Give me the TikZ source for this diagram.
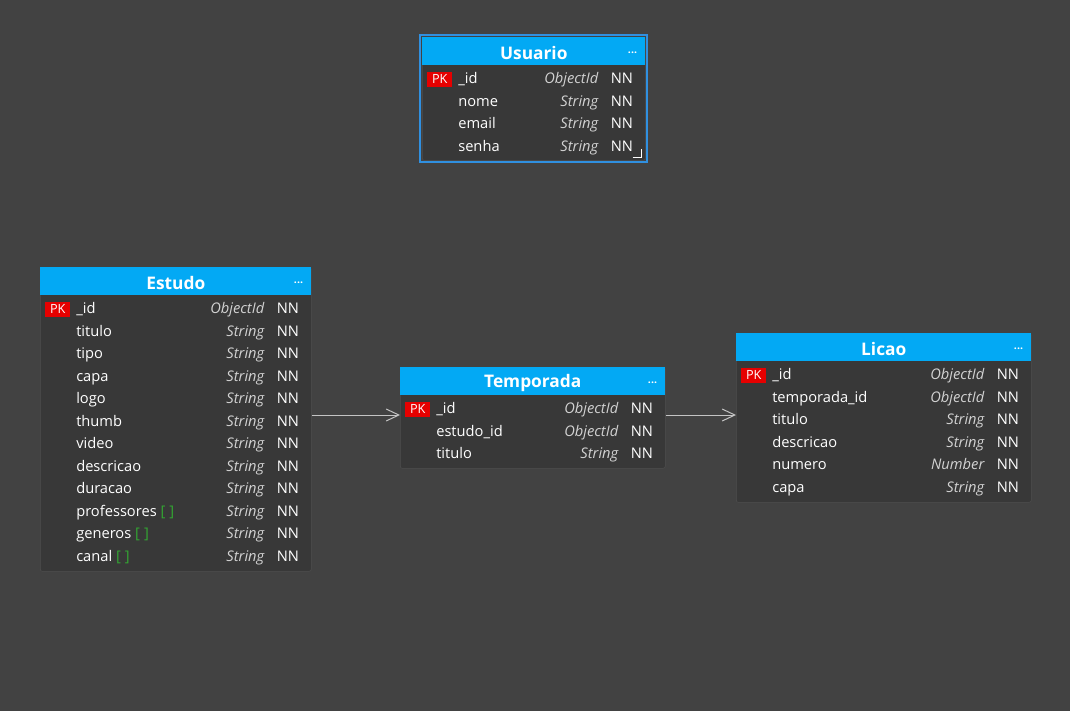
\documentclass[tikz,border=0pt]{standalone}
\usepackage{fontspec}
\setmainfont{Open Sans}
\usetikzlibrary{arrows.meta}
\usetikzlibrary{calc}

\definecolor{canvas}{HTML}{424242}
\definecolor{tblbody}{HTML}{383838}
\definecolor{tblline}{HTML}{4E4E4E}
\definecolor{tblhead}{HTML}{03A9F4}
\definecolor{pkred}{HTML}{E60000}
\definecolor{arrgreen}{HTML}{33A532}
\definecolor{typegray}{HTML}{D2D2D2}
\definecolor{selblue}{HTML}{3090E0}
\definecolor{fkline}{HTML}{C4C4C4}

\tikzset{
	tbl/.style={draw=tblline,fill=tblbody,anchor=north west,rounded corners=1.5pt,inner sep=0pt},
	head/.style={fill=tblhead,anchor=north west,inner sep=0pt,minimum height=28*0.75pt},
	title/.style={text=white,font=\fontsize{13}{15}\selectfont\bfseries},
	dots/.style={text=white,font=\fontsize{8}{8}\selectfont\bfseries},
	pk/.style={fill=pkred,text=white,font=\fontsize{9.5}{10}\selectfont,minimum width=25*0.75pt,minimum height=15*0.75pt,inner sep=0pt,anchor=west},
	col/.style={text=white,font=\fontsize{11}{13}\selectfont,anchor=west,inner sep=0pt,text height=8pt,text depth=2.5pt},
	type/.style={col,text=typegray,font=\fontsize{11}{13}\selectfont\itshape,anchor=east},
	nn/.style={col},
	fk/.style={draw=fkline,line width=0.75pt,-{Straight Barb[length=9.5pt,width=9pt]}},
	sel/.style={draw=selblue,line width=1.5pt}
}

\begin{document}
\begin{tikzpicture}[x=0.75pt,y=-0.75pt]
	\fill[canvas] (0,0) rectangle (1070,711);
	\useasboundingbox (0,0) rectangle (1070,711);
	% Usuario
	\draw (422,37) node (usuario) [tbl,minimum width=223*0.75pt,minimum height=123*0.75pt] {};
	\draw (usuario.north west) node (usuario-h) [head,minimum width=223*0.75pt] {};
	\draw (usuario-h) ++(0,2) node [title] {Usuario};
	\draw (usuario-h.east) ++(-13,3) node [dots] {···};
	\foreach \n/\t [count=\i from 0] in {\_id/ObjectId,nome/String,email/String,senha/String} {
		\draw (usuario.north west) ++(36,43+22.5*\i) node [col] {\n};
		\draw (usuario.north east) ++(-47,43+22.5*\i) node [type] {\t};
		\draw (usuario.north east) ++(-35,43+22.5*\i) node [nn] {NN};
	};
	\draw (usuario.north west) ++(5,42) node [pk] {PK};
	\draw[white,line width=0.9pt] (usuario.south east) ++(-13,-3) -- ++(9,0) -- ++(0,-9);
	\draw[sel] (usuario.north west) ++(-2,-2) rectangle ++(227,127);
	% Estudo
	\draw (40,267) node (estudo) [tbl,minimum width=271*0.75pt,minimum height=304*0.75pt] {};
	\draw (estudo.north west) node (estudo-h) [head,minimum width=271*0.75pt] {};
	\draw (estudo-h) ++(0,2) node [title] {Estudo};
	\draw (estudo-h.east) ++(-13,3) node [dots] {···};
	\foreach \n/\t [count=\i from 0] in {\_id/ObjectId,titulo/String,tipo/String,capa/String,logo/String,thumb/String,video/String,descricao/String,duracao/String,{professores {\color{arrgreen}[\;]}}/String,{generos {\color{arrgreen}[\;]}}/String,{canal {\color{arrgreen}[\;]}}/String} {
		\draw (estudo.north west) ++(36,43+22.5*\i) node [col] {\n};
		\draw (estudo.north east) ++(-47,43+22.5*\i) node [type] {\t};
		\draw (estudo.north east) ++(-35,43+22.5*\i) node [nn] {NN};
	};
	\draw (estudo.north west) ++(5,42) node [pk] {PK};
	% Temporada
	\draw (400,367) node (temporada) [tbl,minimum width=265*0.75pt,minimum height=101*0.75pt] {};
	\draw (temporada.north west) node (temporada-h) [head,minimum width=265*0.75pt] {};
	\draw (temporada-h) ++(0,2) node [title] {Temporada};
	\draw (temporada-h.east) ++(-13,3) node [dots] {···};
	\foreach \n/\t [count=\i from 0] in {\_id/ObjectId,estudo\_id/ObjectId,titulo/String} {
		\draw (temporada.north west) ++(36,43+22.5*\i) node [col] {\n};
		\draw (temporada.north east) ++(-47,43+22.5*\i) node [type] {\t};
		\draw (temporada.north east) ++(-35,43+22.5*\i) node [nn] {NN};
	};
	\draw (temporada.north west) ++(5,42) node [pk] {PK};
	% Licao
	\draw (736,333) node (licao) [tbl,minimum width=295*0.75pt,minimum height=169*0.75pt] {};
	\draw (licao.north west) node (licao-h) [head,minimum width=295*0.75pt] {};
	\draw (licao-h) ++(0,2) node [title] {Licao};
	\draw (licao-h.east) ++(-13,3) node [dots] {···};
	\foreach \n/\t [count=\i from 0] in {\_id/ObjectId,temporada\_id/ObjectId,titulo/String,descricao/String,numero/Number,capa/String} {
		\draw (licao.north west) ++(36,43+22.5*\i) node [col] {\n};
		\draw (licao.north east) ++(-47,43+22.5*\i) node [type] {\t};
		\draw (licao.north east) ++(-35,43+22.5*\i) node [nn] {NN};
	};
	\draw (licao.north west) ++(5,42) node [pk] {PK};
	% references
	\coordinate (fk) at (0,415);
	\draw[fk] (estudo.east |- fk) -- (temporada.west |- fk);
	\draw[fk] (temporada.east |- fk) -- (licao.west |- fk);
\end{tikzpicture}
\end{document}
